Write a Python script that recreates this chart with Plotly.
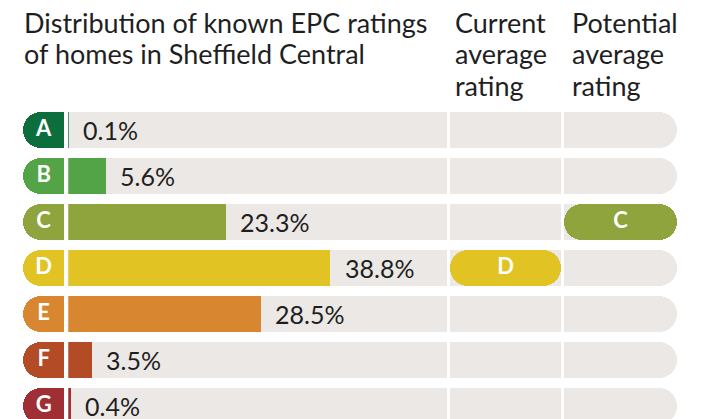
import plotly.graph_objects as go

# EPC bands and the share of known ratings in each band (percent)
ratings = ["A", "B", "C", "D", "E", "F", "G"]
shares = [0.1, 5.6, 23.3, 38.8, 28.5, 3.5, 0.4]
band_colours = ["#0c6e3c", "#52a447", "#8fa43d", "#e1c424", "#d8862f", "#b44b27", "#9f2f35"]

current_rating = "D"
potential_rating = "C"

# full length of the distribution track, in percent
scale_max = 56

title_lines = ["Distribution of known EPC ratings", "of homes in Sheffield Central"]
current_lines = ["Current", "average", "rating"]
potential_lines = ["Potential", "average", "rating"]

TRACK = "#ebe8e5"
INK = "#1f1f1f"
FONT = "Lato"

W, H = 702, 419
TOP = 107
colour_of = dict(zip(ratings, band_colours))


def px_x(p):
    return p / W


def px_y(p):
    # paper y for a pixel row measured from the top of the page
    return 1 + (TOP - p) / (H - TOP)


fig = go.Figure()
bar_w = 0.79
n = len(ratings)

# letter badges: drawn on a reversed axis so the rounded end sits on the left
fig.add_trace(go.Bar(y=ratings, x=[1] * n, orientation="h", width=bar_w,
                     marker=dict(color=band_colours, cornerradius=18, line_width=0),
                     xaxis="x4", yaxis="y", hoverinfo="skip"))
fig.add_trace(go.Scatter(y=ratings, x=[0.5] * n, mode="text", text=ratings,
                         textfont=dict(family=FONT, size=22, color="white", weight="bold"),
                         xaxis="x4", yaxis="y", hoverinfo="skip"))

# distribution tracks and bars
fig.add_trace(go.Bar(y=ratings, x=[scale_max] * n, orientation="h", width=bar_w,
                     marker=dict(color=TRACK, line_width=0), xaxis="x", yaxis="y", hoverinfo="skip"))
fig.add_trace(go.Bar(y=ratings, x=shares, orientation="h", width=bar_w,
                     marker=dict(color=band_colours, line_width=0), xaxis="x", yaxis="y", hoverinfo="skip"))

# current average rating column
fig.add_trace(go.Bar(y=ratings, x=[1] * n, orientation="h", width=bar_w,
                     marker=dict(color=TRACK, line_width=0), xaxis="x2", yaxis="y", hoverinfo="skip"))
# potential average rating column (rounded on the right)
fig.add_trace(go.Bar(y=ratings, x=[1] * n, orientation="h", width=bar_w,
                     marker=dict(color=TRACK, cornerradius=18, line_width=0),
                     xaxis="x3", yaxis="y", hoverinfo="skip"))

# pills marking the average ratings (rounded at both ends)
for axis, rating in (("x2", current_rating), ("x3", potential_rating)):
    fig.add_trace(go.Bar(y=[rating], x=[1], base=[0], orientation="h", width=bar_w,
                         marker=dict(color=colour_of[rating], cornerradius=18, line_width=0),
                         xaxis=axis, yaxis="y", hoverinfo="skip"))
    fig.add_trace(go.Scatter(y=[rating], x=[0.5], mode="text", text=[rating],
                             textfont=dict(family=FONT, size=22, color="white", weight="bold"),
                             xaxis=axis, yaxis="y", hoverinfo="skip"))

# value labels beside each bar
for r, v in zip(ratings, shares):
    fig.add_annotation(x=v, y=r, xref="x", yref="y", text=f"{v}%", showarrow=False,
                       xanchor="left", xshift=12, font=dict(family=FONT, size=25, color=INK))

# heading lines
line_centres = [22.5, 53.8, 85.1]
for x0, lines in ((23, title_lines), (454, current_lines), (570.5, potential_lines)):
    for yc, txt in zip(line_centres, lines):
        fig.add_annotation(x=px_x(x0), y=px_y(yc), xref="paper", yref="paper", text=txt,
                           showarrow=False, xanchor="left", yanchor="middle", align="left",
                           font=dict(family=FONT, size=27, color=INK), borderpad=0)

hidden = dict(visible=False, showgrid=False, zeroline=False, fixedrange=True)
fig.update_layout(
    width=W, height=H,
    margin=dict(l=0, r=0, t=TOP, b=0),
    paper_bgcolor="white", plot_bgcolor="white",
    barmode="overlay", bargap=0, showlegend=False,
    xaxis=dict(domain=[px_x(68.3), px_x(447)], range=[0, scale_max], anchor="y", **hidden),
    xaxis2=dict(domain=[px_x(450), px_x(561)], range=[0, 1], anchor="y", **hidden),
    xaxis3=dict(domain=[px_x(564), px_x(677)], range=[0, 1], anchor="y", **hidden),
    xaxis4=dict(domain=[px_x(23), px_x(64.3)], range=[1, 0], anchor="y", **hidden),
    yaxis=dict(type="category", categoryorder="array", categoryarray=ratings,
               range=[6.28, -0.5], anchor="x", **hidden),
)

fig.write_html("out.html")
